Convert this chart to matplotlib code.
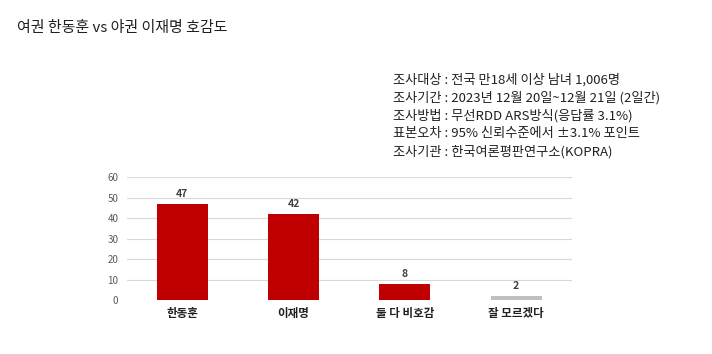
import matplotlib
matplotlib.use('Agg')
import matplotlib.pyplot as plt

plt.rcParams['font.family'] = ['Noto Sans CJK KR', 'DejaVu Sans']

categories = ['한동훈', '이재명', '둘 다 비호감', '잘 모르겠다']
values = [47, 42, 8, 2]
colors = ['#c00000', '#c00000', '#c00000', '#bfbfbf']
yticks = [0, 10, 20, 30, 40, 50, 60]

title = '여권 한동훈 vs 야권 이재명 호감도'
info_lines = [
    '조사대상 : 전국 만18세 이상 남녀 1,006명',
    '조사기간 : 2023년 12월 20일~12월 21일 (2일간)',
    '조사방법 : 무선RDD ARS방식(응답률 3.1%)',
    '표본오차 : 95% 신뢰수준에서 ±3.1% 포인트',
    '조사기관 : 한국여론평판연구소(KOPRA)',
]

fig = plt.figure(figsize=(7.12, 3.54), dpi=100)
ax = fig.add_axes([0.178, 0.1525, 0.625, 0.3475])

x = range(len(categories))
bars = ax.bar(x, values, width=0.46, color=colors, zorder=3)
for b, v in zip(bars, values):
    ax.text(b.get_x() + b.get_width() / 2, v + 2.2, str(v), ha='center', va='bottom',
            fontsize=7.5, color='#404040', fontweight='bold')

ax.set_xlim(-0.5, len(categories) - 0.5)
ax.set_ylim(0, 60)
ax.set_yticks(yticks)
ax.set_xticks(list(x))
ax.set_xticklabels(categories, fontsize=8.3, color='#202020', fontweight='bold')
ax.tick_params(axis='y', labelsize=7, colors='#595959', length=0, pad=6)
ax.tick_params(axis='x', length=0, pad=5)
ax.grid(axis='y', color='#d9d9d9', linewidth=0.8, zorder=0)
for s in ax.spines.values():
    s.set_visible(False)

fig.text(17 / 712, 1 - 28 / 354, title, fontsize=10.8, color='#202020', va='center')
for i, line in enumerate(info_lines):
    fig.text(393 / 712, 1 - (80 + 18 * i) / 354, line, fontsize=9.5, color='#202020', va='center')

fig.savefig('out.png', dpi=100, facecolor='white')
